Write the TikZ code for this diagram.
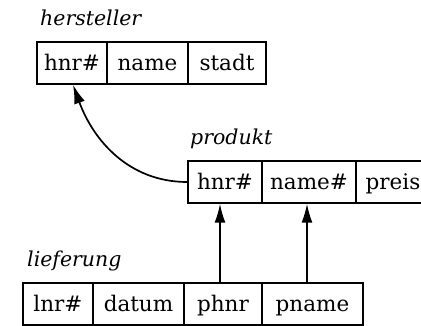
\documentclass[tikz,border=0pt]{standalone}
\usepackage{fontspec}
\setmainfont{DejaVu Serif}
\usetikzlibrary{arrows.meta}
\begin{document}
\begin{tikzpicture}[x=1pt,y=1pt,
  cell/.style={draw, line width=1.4pt, minimum height=42pt, inner sep=0pt,
    text height=17pt, text depth=3pt, font=\fontsize{21.5}{25}\selectfont},
  rel/.style={anchor=base west, inner sep=0pt, font=\fontsize{20.5}{24}\selectfont\itshape},
  arr/.style={line width=1.7pt, -{Latex[length=19pt,width=11pt]}}]
\useasboundingbox (0,0) rectangle (421,325);
% hersteller
\node[rel] (lh) at (40,300) {hersteller};
\node[cell, minimum width=70pt] (H1) at (72,262) {hnr\#};
\node[cell, minimum width=81pt] (H2) at (147.5,262) {name};
\node[cell, minimum width=78pt] (H3) at (227,262) {stadt};
% produkt
\node[rel] (lp) at (190,181) {produkt};
\node[cell, minimum width=74pt] (P1) at (225,143) {hnr\#};
\node[cell, minimum width=94pt] (P2) at (309,143) {name\#};
\node[cell, minimum width=74pt] (P3) at (393,143) {preis};
% lieferung
\node[rel] (ll) at (27,59) {lieferung};
\node[cell, minimum width=70pt] (L1) at (58,21) {lnr\#};
\node[cell, minimum width=91pt] (L2) at (138.5,21) {datum};
\node[cell, minimum width=78pt] (L3) at (223,21) {phnr};
\node[cell, minimum width=101pt] (L4) at (312.5,21) {pname};
% connectors
\draw[arr] ([xshift=-3pt]L3.north) -- ([xshift=-3pt]L3.north |- P1.south);
\draw[arr] ([xshift=-5.5pt]L4.north) -- ([xshift=-5.5pt]L4.north |- P2.south);
\draw[arr] (P1.west) to[out=180,in=-70] ([xshift=1pt]H1.south);
\end{tikzpicture}
\end{document}
